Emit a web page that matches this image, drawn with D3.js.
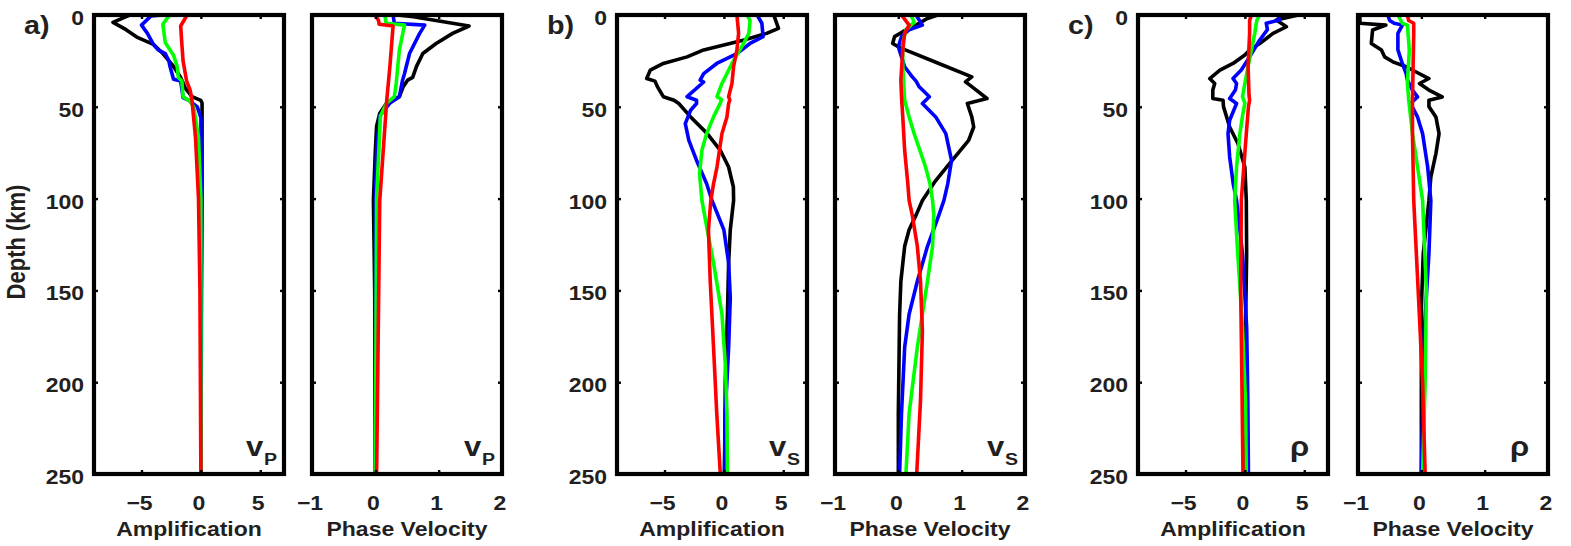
<!DOCTYPE html>
<html>
<head>
<meta charset="utf-8">
<script src="https://cdn.jsdelivr.net/npm/d3@7"></script>
<style>
  body { margin: 0; background: #fff; }
  text { font-family: "Liberation Sans", Arial, Helvetica, sans-serif; font-weight: bold; fill: #231f20; }
</style>
</head>
<body>
<svg id="chart" width="1571" height="546"></svg>
<script>
// depth (km), value pairs
const depthTicks = [0, 50, 100, 150, 200, 250];
const ampTicks = [-5, 0, 5];
const pvTicks = [-1, 0, 1, 2];

// a) vP
const aAmpBlack = [[0,-6.0],[4,-7.4],[8,-6.3],[12,-5.4],[16,-4.0],[21,-3.2],[28,-2.3],[34,-1.7],[40,-1.3],[44.5,-0.75],[46.5,0],[48,0.1],[60,0.1],[100,0.1],[150,0.05],[250,0.0]];
const aAmpBlue = [[0,-3.2],[0.5,-4.2],[5.5,-5.0],[10,-4.5],[16,-4.0],[19,-3.6],[21,-3.0],[25,-2.7],[28,-2.6],[35,-2.3],[36,-1.7],[45,-1.5],[46.5,-1.0],[50,-0.3],[56,0.0],[100,0.05],[250,0.0]];
const aAmpGreen = [[0,-2.4],[0.5,-2.7],[5,-3.2],[15,-3.0],[19,-2.6],[22,-2.3],[28,-2.0],[34,-1.9],[36,-1.6],[44.5,-1.5],[46.5,-1.0],[50,-0.6],[67,-0.2],[100,0.0],[250,0.0]];
const aAmpRed = [[0,-1.0],[0.5,-1.2],[6,-1.7],[16,-1.6],[25,-1.5],[36,-1.2],[41,-0.9],[46.5,-0.75],[67,-0.45],[100,-0.2],[150,-0.08],[250,0.0]];
const aPvBlack = [[0,0.35],[1,0.6],[6,1.48],[10,1.22],[15.5,0.96],[21,0.75],[28,0.65],[34,0.59],[35.5,0.51],[39,0.44],[44.5,0.38],[48,0.18],[53.5,0.07],[60.5,0.02],[74,0.0],[101,-0.03],[150,-0.01],[250,0.0]];
const aPvBlue = [[0,0.28],[4.5,0.3],[5.5,0.78],[10,0.7],[21,0.54],[32,0.46],[35.5,0.43],[44.5,0.38],[48,0.23],[55,0.07],[74,0.02],[101,0.0],[250,0.0]];
const aPvGreen = [[0,0.15],[4.5,0.17],[5.5,0.46],[19,0.38],[37,0.33],[44.5,0.3],[48,0.18],[55,0.08],[100,0.02],[250,0.0]];
const aPvRed = [[0,0.0],[3,0.05],[5,0.06],[6,0.28],[28,0.23],[46.5,0.18],[101,0.07],[250,0.02]];

// b) vS
const bAmpBlack = [[0,4.2],[7.3,4.6],[10,3.6],[13.6,1.7],[19,-1.7],[22.8,-3.1],[26.4,-5.1],[30,-6.2],[34.6,-6.5],[36,-5.8],[39,-5.6],[44.5,-5.1],[46.4,-4.2],[48.2,-3.8],[55.5,-2.8],[64.6,-1.4],[73.7,-0.3],[82.8,0.4],[93.7,0.8],[101,0.82],[117,0.54],[135,0.4],[163,0.3],[199,0.12],[250,0.05]];
const bAmpBlue = [[0,2.8],[4.5,3.2],[11.8,3.3],[15.5,2.2],[21,1.1],[26.4,-0.6],[31.9,-1.7],[35.5,-2.0],[36.5,-1.7],[44.5,-3.1],[46.4,-2.3],[48.2,-2.3],[51.9,-2.8],[59.2,-3.25],[68.3,-2.95],[79.2,-2.3],[91.9,-1.45],[101,-1.0],[117,0.0],[135,0.4],[154,0.54],[181,0.4],[217,0.12],[250,0.05]];
const bAmpGreen = [[0,1.95],[3,2.2],[10,2.1],[15.5,1.66],[26.4,0.68],[37.3,-0.16],[44.5,-0.58],[46,-0.2],[48,-0.3],[55.5,-0.87],[64.6,-1.45],[73.7,-1.85],[86.4,-2.05],[101,-1.85],[117,-1.4],[135,-0.87],[163,-0.16],[190,0.12],[217,0.26],[250,0.3]];
const bAmpRed = [[0,1.1],[10,1.24],[19,1.1],[28,0.82],[37.3,0.68],[44.5,0.4],[46.4,0.5],[48.2,0.4],[55.5,0.26],[64.6,-0.16],[82.8,-0.58],[92,-0.87],[101,-1.1],[117,-1.3],[145,-1.15],[181,-0.87],[217,-0.6],[250,-0.3]];
const bPvBlack = [[0,0.62],[2,0.45],[5.5,0.28],[9.1,0.07],[11.8,-0.06],[15.5,-0.09],[17.3,0.0],[19.1,0.12],[26.4,0.64],[33.7,1.16],[36.4,1.06],[39,1.16],[45.5,1.4],[48.2,1.09],[55.5,1.16],[61,1.19],[68.3,1.11],[79.2,0.85],[90.2,0.59],[101,0.38],[109,0.28],[117,0.17],[126,0.1],[145,0.04],[163,0.02],[217,0.0],[250,0.0]];
const bPvBlue = [[0,0.28],[5.5,0.38],[8,0.17],[11.8,0.05],[17.3,0.0],[22.8,0.05],[28.2,0.1],[33.7,0.22],[36,0.28],[39.1,0.33],[44.5,0.49],[48.2,0.38],[55.5,0.59],[64.6,0.75],[79.2,0.84],[92,0.78],[101,0.72],[109,0.64],[126,0.46],[145,0.3],[163,0.17],[181,0.1],[217,0.05],[250,0.02]];
const bPvGreen = [[0,0.2],[4,0.25],[8,0.12],[15.5,0.07],[28,0.07],[46.4,0.1],[55.5,0.17],[64.6,0.25],[82.8,0.43],[92,0.5],[101,0.54],[109,0.56],[126,0.54],[145,0.46],[163,0.38],[181,0.3],[217,0.17],[250,0.12]];
const bPvRed = [[0,0.05],[5.5,0.17],[10,0.1],[19,0.07],[35.5,0.04],[44.5,0.05],[55.5,0.07],[73.7,0.1],[92,0.15],[101,0.17],[109,0.22],[126,0.3],[145,0.35],[172,0.38],[210,0.35],[250,0.29]];

// c) rho
const cAmpBlack = [[0,4.5],[2.7,2.65],[6.4,3.5],[10,2.37],[15.5,1.25],[19.1,0.4],[21.8,0.0],[26.4,-1.0],[30,-2.1],[34.6,-2.96],[37.3,-2.54],[40.9,-2.7],[45.5,-2.7],[46.4,-1.84],[49.9,-1.8],[61,-1.28],[70.1,-0.58],[82.8,0.0],[101,0.12],[130,0.15],[160,0.08],[200,0.0],[250,-0.05]];
const cAmpBlue = [[0,2.8],[2.7,2.9],[4.5,1.8],[8,1.9],[13.6,1.25],[22.8,0.4],[30,-0.3],[34.6,-1.0],[37.3,-0.7],[40.9,-0.8],[45.5,-1.28],[48.2,-0.7],[57.3,-1.28],[64.6,-1.42],[77.3,-1.28],[92,-0.98],[101,-0.7],[130,-0.2],[170,0.15],[210,0.25],[250,0.3]];
const cAmpGreen = [[0,1.25],[3,1.0],[10,0.83],[19,0.55],[28,0.27],[37.3,0.0],[44.5,-0.2],[48,0.0],[55,-0.2],[64.6,-0.42],[82.8,-0.7],[101,-0.86],[130,-0.6],[170,-0.2],[210,0.05],[250,0.12]];
const cAmpRed = [[0,0.55],[3,0.4],[10,0.4],[28,0.27],[44,0.35],[46.4,0.4],[50,0.3],[64.6,0.12],[101,-0.3],[150,-0.35],[200,-0.25],[250,-0.16]];
const cPvBlack = [[0,-0.97],[4.5,-0.97],[5.5,-0.56],[8.2,-0.77],[15.5,-0.79],[19.1,-0.63],[22.8,-0.58],[25.5,-0.45],[28.2,-0.24],[30.9,-0.09],[34.6,0.12],[37.3,-0.03],[40.9,0.12],[44.6,0.33],[46.4,0.12],[49.9,0.12],[55.5,0.23],[64.6,0.28],[75.5,0.23],[88.3,0.15],[101,0.12],[130,0.03],[160,0.0],[200,0.0],[250,0.0]];
const cPvBlue = [[0,-0.53],[3,-0.5],[4.5,-0.43],[5.5,-0.3],[10,-0.37],[19,-0.37],[26.4,-0.3],[31.9,-0.24],[35.5,-0.22],[40.9,-0.14],[44.6,-0.06],[48.2,-0.17],[55.5,-0.06],[64.6,0.02],[82.8,0.1],[101,0.15],[130,0.12],[170,0.05],[250,0.0]];
const cPvGreen = [[0,-0.37],[4.5,-0.3],[5.5,-0.22],[19,-0.19],[37,-0.22],[46,-0.2],[64.6,-0.14],[82.8,-0.06],[101,0.02],[150,0.08],[200,0.06],[250,0.02]];
const cPvRed = [[0,-0.22],[3,-0.2],[4.5,-0.12],[10,-0.12],[28,-0.13],[46,-0.14],[64.6,-0.14],[101,-0.12],[150,-0.05],[200,0.02],[250,0.06]];

const colors = ["#000000", "#0000ff", "#00ff00", "#ff0000"];

const W = 190, TOP = 15, BOT = 474;
const STRETCH = 1.15;

const panels = [
  { left: 94,   kind: "amp", series: [aAmpBlack, aAmpBlue, aAmpGreen, aAmpRed], sym: "v", sub: "P", letter: "a)" },
  { left: 312,  kind: "pv",  series: [aPvBlack, aPvBlue, aPvGreen, aPvRed], sym: "v", sub: "P" },
  { left: 617,  kind: "amp", series: [bAmpBlack, bAmpBlue, bAmpGreen, bAmpRed], sym: "v", sub: "S", letter: "b)" },
  { left: 835,  kind: "pv",  series: [bPvBlack, bPvBlue, bPvGreen, bPvRed], sym: "v", sub: "S" },
  { left: 1138, kind: "amp", series: [cAmpBlack, cAmpBlue, cAmpGreen, cAmpRed], sym: "ρ", sub: "", letter: "c)" },
  { left: 1358, kind: "pv",  series: [cPvBlack, cPvBlue, cPvGreen, cPvRed], sym: "ρ", sub: "" }
];

const svg = d3.select("#chart");
svg.append("rect").attr("width", 1571).attr("height", 546).attr("fill", "#fff");

const y = d3.scaleLinear().domain([0, 250]).range([TOP, BOT]);
const fmt = v => (v < 0 ? "\u2212" + Math.abs(v) : String(v));

function stretchedText(g, x, yy, str, size, anchor) {
  return g.append("text")
    .attr("transform", `translate(${x},${yy}) scale(${STRETCH},1)`)
    .attr("text-anchor", anchor)
    .attr("font-size", size)
    .text(str);
}

panels.forEach((p, i) => {
  const isAmp = p.kind === "amp";
  const x = d3.scaleLinear()
    .domain(isAmp ? [-9, 7] : [-1, 2])
    .range([p.left, p.left + W]);
  const ticks = isAmp ? ampTicks : pvTicks;
  const g = svg.append("g");

  const clipId = "clip" + i;
  g.append("clipPath").attr("id", clipId)
    .append("rect").attr("x", p.left).attr("y", TOP).attr("width", W).attr("height", BOT - TOP);

  const line = d3.line().x(d => x(d[1])).y(d => y(d[0]));
  g.append("g").attr("clip-path", `url(#${clipId})`)
    .selectAll("path")
    .data(p.series)
    .join("path")
    .attr("d", line)
    .attr("fill", "none")
    .attr("stroke", (d, j) => colors[j])
    .attr("stroke-width", 3.6)
    .attr("stroke-linejoin", "round");

  // inward ticks on all four sides
  const tickLen = 4;
  const axes = [
    d3.axisBottom(x).tickValues(ticks).tickSize(-tickLen).tickFormat(""),
    d3.axisTop(x).tickValues(ticks).tickSize(-tickLen).tickFormat(""),
    d3.axisLeft(y).tickValues(depthTicks).tickSize(-tickLen).tickFormat(""),
    d3.axisRight(y).tickValues(depthTicks).tickSize(-tickLen).tickFormat("")
  ];
  const offs = [`translate(0,${BOT})`, `translate(0,${TOP})`, `translate(${p.left},0)`, `translate(${p.left + W},0)`];
  axes.forEach((ax, k) => {
    const a = g.append("g").attr("transform", offs[k]).call(ax);
    a.select(".domain").remove();
    a.selectAll(".tick line").attr("stroke", "#000").attr("stroke-width", 2.4);
  });

  g.append("rect")
    .attr("x", p.left).attr("y", TOP).attr("width", W).attr("height", BOT - TOP)
    .attr("fill", "none").attr("stroke", "#000").attr("stroke-width", 4.2);

  // x tick labels
  ticks.forEach(t => stretchedText(g, x(t) - 2, 510, fmt(t), 20, "middle"));
  // x axis title
  stretchedText(g, p.left + W / 2, 536, isAmp ? "Amplification" : "Phase Velocity", 20, "middle");

  // y tick labels on the amplification panel of each pair
  if (isAmp) {
    depthTicks.forEach(t => stretchedText(g, p.left - 10, y(t) + 10, String(t), 20, "end"));
    stretchedText(g, p.left - 70, 34, p.letter, 25, "start");
  }

  // parameter symbol in lower right
  g.append("text")
    .attr("transform", `translate(${p.left + W - 38},456) scale(${STRETCH},1)`)
    .attr("font-size", 27)
    .text(p.sym);
  if (p.sub) {
    g.append("text")
      .attr("transform", `translate(${p.left + W - 20},465) scale(${STRETCH},1)`)
      .attr("font-size", 17)
      .text(p.sub);
  }
});

svg.append("text")
  .attr("transform", `translate(25,242) scale(${STRETCH},1) rotate(-90)`)
  .attr("text-anchor", "middle")
  .attr("font-size", 22)
  .text("Depth (km)");
</script>
</body>
</html>
